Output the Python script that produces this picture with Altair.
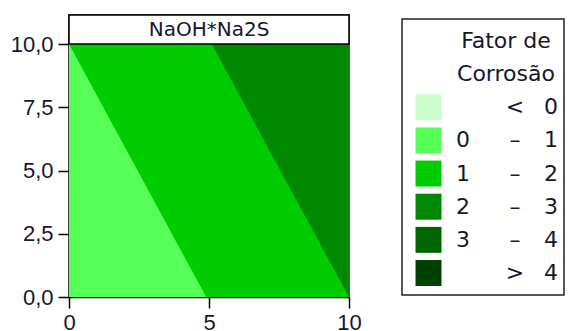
import altair as alt
import pandas as pd

# ---------------- data ----------------
x_ticks = [0, 5, 10]
y_ticks = [0.0, 2.5, 5.0, 7.5, 10.0]
panel_label = "NaOH*Na2S"

# contour boundaries (NaOH on x, Na2S on y)
low_edge_x = [0.0, 4.9]     # between "0 – 1" and "1 – 2"
low_edge_y = [10.0, 0.0]
high_edge_x = [5.1, 10.0]   # between "1 – 2" and "2 – 3"
high_edge_y = [10.0, 0.0]

classes = ["< 0", "0 – 1", "1 – 2", "2 – 3", "3 – 4", "> 4"]
class_lo = ["", "0", "1", "2", "3", ""]
class_sep = ["<", "–", "–", "–", "–", ">"]
class_hi = ["0", "1", "2", "3", "4", "4"]
class_colors = ["#ccfccc", "#55ff55", "#00cc00", "#008800", "#006400", "#004000"]
legend_title = ["Fator de", "Corrosão"]

# ---------------- layout / style ----------------
PLOT_W, PLOT_H = 280, 282
PAD = {"left": 61, "top": 7, "right": 216, "bottom": 40}
HEADER = 1.15
LEG_X0, LEG_W = 333, 162          # legend box, pixels from the plot's left edge
LEG_Y0, LEG_STEP = 26, 33.14      # first legend row / row pitch, pixels from the top
LEG_COL = {"sw": 26.5, "lo": 61, "title": 104, "sep": 113, "hi": 149}
LEG_BOX_TOP = 0.664               # box edges, in legend-row units
LEG_BOX_BOTTOM = 0.664
TXT = "#161630"
TICK_FONT = "Liberation Sans"
FONT = "DejaVu Sans"

x0, x1 = min(x_ticks), max(x_ticks)
y0, y1 = min(y_ticks), max(y_ticks)
xs = alt.Scale(domain=[x0, x1], nice=False, zero=False)
ys = alt.Scale(domain=[y0, y1 + HEADER], nice=False, zero=False)
cs = alt.Scale(domain=classes, range=class_colors)

axis_style = dict(title=None, grid=False, tickSize=11, tickColor="black", domainColor="black",
                  tickWidth=1.5, domainWidth=1.5, labelFont=TICK_FONT, labelFontSize=22,
                  labelColor=TXT, labelOverlap=False)
x_axis = alt.Axis(values=x_ticks, format="d", labelPadding=4, labelFlush=False, **axis_style)
y_axis = alt.Axis(values=y_ticks, labelExpr="replace(format(datum.value, '.1f'), '.', ',')",
                  labelPadding=5, **axis_style)

full_df = pd.DataFrame({"x": [x0], "x2": [x1], "y": [y0], "y2": [y1], "cls": [classes[2]]})
light_df = pd.DataFrame({"x": low_edge_x, "y": low_edge_y, "y2": [y0] * len(low_edge_x), "cls": classes[1]})
dark_df = pd.DataFrame({"x": high_edge_x, "y": high_edge_y, "y2": [y1] * len(high_edge_x), "cls": classes[3]})
head_df = pd.DataFrame({"x": [x0], "x2": [x1], "y": [y1], "y2": [y1 + HEADER],
                        "xm": [(x0 + x1) / 2], "ym": [y1 + HEADER / 2], "label": [panel_label]})

col = alt.Color("cls:N", scale=cs, legend=None)

mid = alt.Chart(full_df).mark_rect().encode(
    x=alt.X("x:Q", scale=xs, axis=x_axis), x2="x2",
    y=alt.Y("y:Q", scale=ys, axis=y_axis), y2="y2", color=col)
light = alt.Chart(light_df).mark_area(interpolate="linear", opacity=1).encode(
    x=alt.X("x:Q", scale=xs, axis=None), y=alt.Y("y:Q", scale=ys, axis=None), y2="y2", color=col)
dark = alt.Chart(dark_df).mark_area(interpolate="linear", opacity=1).encode(
    x=alt.X("x:Q", scale=xs, axis=None), y=alt.Y("y:Q", scale=ys, axis=None), y2="y2", color=col)
head_rect = alt.Chart(head_df).mark_rect(fill="white", stroke="black", strokeWidth=1.5).encode(
    x=alt.X("x:Q", scale=xs, axis=None), x2="x2", y=alt.Y("y:Q", scale=ys, axis=None), y2="y2")
head_text = alt.Chart(head_df).mark_text(font=FONT, fontSize=20, color=TXT, baseline="middle").encode(
    x=alt.X("xm:Q", scale=xs, axis=None), y=alt.Y("ym:Q", scale=ys, axis=None), text="label:N")

# ---------------- legend (own scales, drawn to the right of the plot) ----------------
leg_rows = legend_title + classes
slot = {r: i for i, r in enumerate(leg_rows)}
n_last = len(leg_rows) - 1

leg_sw = pd.DataFrame({"slot": [slot[c] for c in classes], "x": [LEG_COL["sw"]] * len(classes),
                       "cls": classes})
txt_rows = classes * 3 + legend_title
leg_txt = pd.DataFrame({
    "slot": [slot[r] for r in txt_rows],
    "x": [LEG_COL["lo"]] * len(classes) + [LEG_COL["sep"]] * len(classes)
         + [LEG_COL["hi"]] * len(classes) + [LEG_COL["title"]] * len(legend_title),
    "label": class_lo + class_sep + class_hi + legend_title,
})
box_df = pd.DataFrame({"x": [0], "x2": [LEG_W], "y": [-LEG_BOX_TOP], "y2": [n_last + LEG_BOX_BOTTOM]})

lx = alt.Scale(domain=[0, LEG_W], range=[LEG_X0, LEG_X0 + LEG_W], nice=False, zero=False)
ly = alt.Scale(domain=[0, n_last], range=[LEG_Y0, LEG_Y0 + n_last * LEG_STEP], nice=False, zero=False)

box = alt.Chart(box_df).mark_rect(fill="white", stroke="#222", strokeWidth=1.5).encode(
    x=alt.X("x:Q", scale=lx, axis=None), x2="x2", y=alt.Y("y:Q", scale=ly, axis=None), y2="y2")
sw = alt.Chart(leg_sw).mark_square(size=675, opacity=1).encode(
    x=alt.X("x:Q", scale=lx, axis=None), y=alt.Y("slot:Q", scale=ly, axis=None), color=col)
txt = alt.Chart(leg_txt).mark_text(font=FONT, fontSize=22, color=TXT, baseline="middle").encode(
    x=alt.X("x:Q", scale=lx, axis=None), y=alt.Y("slot:Q", scale=ly, axis=None), text="label:N")

chart = alt.layer(mid, light, dark, head_rect, head_text, box, sw, txt).resolve_scale(
    x="independent", y="independent"
).properties(
    width=PLOT_W, height=PLOT_H,
    autosize=alt.AutoSizeParams(type="none"),
    padding=PAD,
).configure_view(stroke="#222", strokeWidth=1.5)

chart.save("out.html", embed_options={"renderer": "svg", "actions": False})
